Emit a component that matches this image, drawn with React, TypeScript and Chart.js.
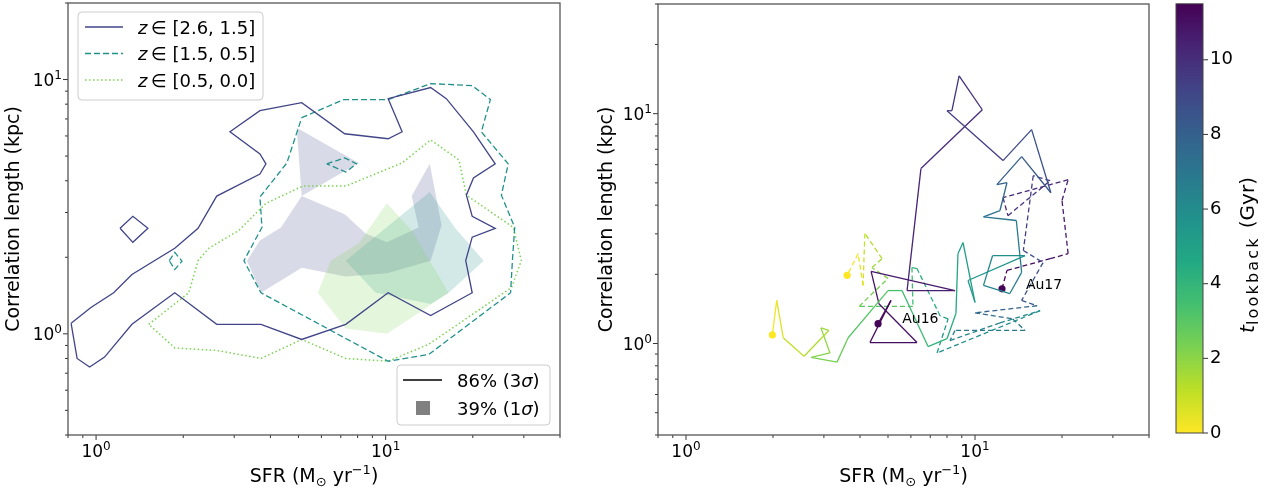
import { useEffect, useRef } from "react";
import { Chart, registerables } from "chart.js";

Chart.register(...registerables);

const FAMILY = "'DejaVu Sans', 'Liberation Sans', sans-serif";

// ---------------- axes ----------------
const sfrLimits = [0.8, 40];
const lenLimitsLeft = [0.4, 20];
const lenLimitsRight = [0.4, 30];
const sfrTickValues = [0.8, 0.9, 1, 2, 3, 4, 5, 6, 7, 8, 9, 10, 20, 30, 40];
const lenTickValuesLeft = [0.4, 0.5, 0.6, 0.7, 0.8, 0.9, 1, 2, 3, 4, 5, 6, 7, 8, 9, 10, 20];
const lenTickValuesRight = [0.4, 0.5, 0.6, 0.7, 0.8, 0.9, 1, 2, 3, 4, 5, 6, 7, 8, 9, 10, 20, 30];
const lookbackLimits = [0, 11.5];
const lookbackTickValues = [0, 2, 4, 6, 8, 10];
const yTitleText = "Correlation length (kpc)";

// ---------------- left panel: legend texts ----------------
const redshiftBins = ["[2.6, 1.5]", "[1.5, 0.5]", "[0.5, 0.0]"];
const levelPercents = ["86%", "39%"];
const levelSigmas = ["3", "1"];

// ---------------- left panel: 86% contours ----------------
// z in [2.6, 1.5]
const hiZ86SFR = [0.82, 0.86, 0.95, 1.07, 1.33, 1.87, 2.61, 3.71, 5.13, 7.28, 10.2, 14.3, 19.9, 18.9, 19.9, 23.9, 19.9, 19.0, 20.1, 23.9, 20.1, 16.2, 14.3, 10.2, 11.4, 10.2, 7.22, 5.13, 3.68, 2.90, 3.68, 3.86, 3.68, 2.61, 2.25, 1.87, 1.33, 1.15, 0.96];
const hiZ86Len = [1.10, 0.80, 0.74, 0.81, 1.09, 1.45, 1.09, 1.09, 0.95, 1.09, 1.45, 1.18, 1.45, 1.94, 2.40, 2.60, 2.90, 3.51, 4.10, 4.66, 6.23, 8.41, 9.30, 8.41, 6.23, 5.85, 6.12, 8.11, 7.54, 6.23, 5.10, 4.66, 4.25, 3.48, 2.60, 2.17, 1.71, 1.45, 1.27];
const hiZ86IslandSFR = [1.21, 1.34, 1.51, 1.34];
const hiZ86IslandLen = [2.60, 2.90, 2.60, 2.29];
// z in [1.5, 0.5]
const midZ86SFR = [5.13, 7.16, 10.2, 14.3, 19.9, 23.0, 21.4, 26.5, 25.1, 27.9, 27.4, 27.0, 14.1, 10.2, 3.71, 3.24, 3.74, 3.68, 4.56];
const midZ86Len = [7.08, 8.34, 8.34, 9.64, 9.46, 8.34, 6.23, 4.66, 3.51, 2.62, 1.94, 1.45, 0.83, 0.78, 1.45, 1.94, 2.62, 3.45, 4.70];
const midZ86IslandASFR = [6.26, 7.22, 7.94, 7.28];
const midZ86IslandALen = [4.66, 4.92, 4.66, 4.33];
const midZ86IslandBSFR = [1.79, 1.87, 1.98, 1.87];
const midZ86IslandBLen = [1.94, 2.09, 1.93, 1.79];
// z in [0.5, 0.0]
const loZ86SFR = [1.52, 2.09, 2.25, 2.45, 3.11, 3.86, 5.17, 7.28, 11.4, 14.3, 17.9, 19.0, 27.6, 29.4, 27.2, 14.1, 10.2, 7.28, 5.13, 3.71, 2.61, 1.87];
const loZ86Len = [1.09, 1.45, 1.94, 2.17, 2.55, 3.26, 3.81, 3.81, 4.70, 5.79, 4.83, 3.51, 2.62, 1.94, 1.52, 0.91, 0.78, 0.80, 0.95, 0.80, 0.86, 0.88];

// ---------------- left panel: 39% regions ----------------
const hiZ39SFR = [4.93, 8.07, 5.13, 7.22, 8.53, 10.1, 13.0, 12.3, 14.2, 15.6, 14.3, 10.1, 7.28, 5.13, 3.71, 3.32, 3.68, 4.35, 5.13];
const hiZ39Len = [6.46, 4.70, 3.48, 2.95, 2.48, 2.29, 2.62, 3.48, 4.66, 2.67, 1.94, 1.73, 1.68, 1.82, 1.45, 1.94, 2.33, 2.62, 3.48];
const midZ39SFR = [7.28, 14.2, 17.4, 21.8, 16.5, 14.3, 9.24];
const midZ39Len = [1.94, 3.61, 2.60, 1.94, 1.45, 1.31, 1.45];
const loZ39SFR = [10.1, 12.3, 16.5, 12.3, 10.1, 7.28, 5.83, 6.46, 8.07];
const loZ39Len = [3.26, 2.55, 1.45, 1.16, 1.00, 1.05, 1.45, 1.94, 2.27];

// ---------------- right panel: trajectories ----------------
const au16SFR = [4.62, 5.12, 4.33, 6.30, 4.65, 4.37, 8.53, 5.82, 6.50, 10.6, 8.81, 8.32, 8.00, 12.5, 15.7, 18.3, 14.5, 11.9, 12.9, 12.2, 10.7, 13.9, 14.5, 13.2, 10.7, 11.5, 14.9, 9.46, 10.0, 9.09, 8.73, 8.59, 8.00, 6.88, 5.59, 5.00, 3.64, 3.33, 2.71, 3.15, 2.93, 3.12, 2.56, 2.17, 2.06, 1.99];
const au16Len = [1.22, 1.54, 1.01, 1.01, 1.49, 2.06, 1.70, 1.70, 5.77, 10.4, 14.6, 10.3, 10.3, 6.25, 8.52, 4.53, 6.50, 4.91, 5.01, 3.79, 3.56, 3.43, 2.04, 1.65, 1.79, 2.41, 2.41, 1.88, 1.51, 2.75, 2.46, 1.35, 1.05, 0.97, 1.70, 1.70, 1.06, 0.83, 0.87, 0.91, 1.17, 1.14, 0.88, 1.06, 1.54, 1.09];
const au16Time = [11.4, 11.3, 11.2, 11.0, 10.9, 10.8, 10.6, 10.4, 10.2, 10.0, 9.8, 9.7, 9.6, 9.2, 8.9, 8.5, 8.2, 7.9, 7.7, 7.4, 7.1, 6.9, 6.6, 6.4, 6.2, 6.0, 5.8, 5.6, 5.4, 5.0, 4.8, 4.5, 4.2, 3.9, 3.5, 3.3, 2.8, 2.5, 2.2, 2.0, 1.8, 1.6, 1.2, 0.8, 0.4, 0.0];

const au17SFR = [12.4, 12.9, 18.2, 21.0, 20.0, 21.0, 12.5, 13.0, 18.2, 15.9, 14.7, 17.2, 14.5, 16.4, 10.0, 13.5, 14.9, 8.53, 8.19, 12.2, 16.8, 7.39, 8.07, 7.57, 6.30, 6.05, 6.10, 3.97, 5.00, 4.40, 4.77, 4.16, 4.13, 4.10, 3.94, 3.61];
const au17Len = [1.73, 2.08, 2.34, 2.46, 4.19, 5.16, 4.31, 3.60, 5.11, 5.37, 2.54, 2.25, 1.54, 1.46, 1.36, 1.28, 1.14, 1.14, 1.03, 1.23, 1.39, 0.91, 1.28, 1.32, 2.12, 2.14, 1.45, 1.45, 1.92, 2.14, 2.34, 3.01, 2.37, 1.79, 2.46, 1.98];
const au17Time = [11.4, 11.2, 11.0, 10.8, 10.6, 10.4, 10.2, 10.0, 9.8, 9.6, 9.2, 8.9, 8.5, 8.1, 7.6, 7.3, 7.0, 6.7, 6.5, 6.2, 6.0, 5.6, 5.0, 4.6, 4.0, 3.8, 3.4, 2.6, 2.2, 1.8, 1.5, 1.2, 0.9, 0.6, 0.3, 0.0];

const haloNames = ["Au16", "Au17"];
const haloLabelSFR = [5.6, 15.0];
const haloLabelLen = [1.27, 1.79];

// ---------------- styling helpers ----------------
const HI_COLOR = "#414487";
const MID_COLOR = "#21918c";
const LO_COLOR = "#7ad151";
const VIRIDIS = [
  [68, 1, 84], [72, 36, 117], [65, 68, 135], [53, 95, 141], [42, 120, 142], [33, 145, 140],
  [34, 168, 132], [68, 191, 112], [122, 209, 81], [189, 223, 38], [253, 231, 37],
];
function viridis(f: number) {
  const x = Math.min(1, Math.max(0, f)) * 10;
  const i = Math.min(9, Math.floor(x));
  const u = x - i;
  const a = VIRIDIS[i], b = VIRIDIS[i + 1];
  const c = [0, 1, 2].map((k) => Math.round(a[k] + (b[k] - a[k]) * u));
  return `rgb(${c[0]},${c[1]},${c[2]})`;
}
const lookbackColor = (t: number) => viridis(1 - t / lookbackLimits[1]);

// returns the exponent when v is a power of ten, otherwise null
function powExp(v: number): number | null {
  const e = Math.log10(v);
  const r = Math.round(e);
  return Math.abs(e - r) < 1e-6 ? r : null;
}

type Run = { t: string; size: number; italic?: boolean; dy?: number; ls?: number; gap?: number };
function runFont(r: Run) {
  return `${r.italic ? "italic " : ""}${r.size}px ${FAMILY}`;
}
function runsWidth(ctx: any, runs: Run[]) {
  let w = 0;
  for (const r of runs) {
    ctx.font = runFont(r);
    ctx.letterSpacing = `${r.ls || 0}px`;
    w += ctx.measureText(r.t).width + (r.gap || 0);
  }
  ctx.letterSpacing = "0px";
  return w;
}
function drawRuns(ctx: any, runs: Run[], x: number, y: number, align: "left" | "center" | "right") {
  const w = runsWidth(ctx, runs);
  let cx = align === "center" ? x - w / 2 : align === "right" ? x - w : x;
  ctx.textAlign = "left";
  ctx.textBaseline = "alphabetic";
  ctx.fillStyle = "#000";
  for (const r of runs) {
    ctx.font = runFont(r);
    ctx.letterSpacing = `${r.ls || 0}px`;
    ctx.fillText(r.t, cx, y + (r.dy || 0));
    cx += ctx.measureText(r.t).width + (r.gap || 0);
  }
  ctx.letterSpacing = "0px";
}
function powRuns(e: number): Run[] {
  return [
    { t: "10", size: 17 },
    { t: String(e).replace("-", "−"), size: 12, dy: -7 },
  ];
}

const sfrTitleRuns: Run[] = [
  { t: "SFR (M", size: 19 },
  { t: "⊙", size: 13, dy: 4 },
  { t: " yr", size: 19 },
  { t: "−1", size: 13, dy: -8 },
  { t: ")", size: 19 },
];

function pts(xs: number[], ys: number[], closed: boolean) {
  const out = xs.map((x, i) => ({ x, y: ys[i] }));
  if (closed) out.push({ x: xs[0], y: ys[0] });
  return out;
}

function lineDs(xs: number[], ys: number[], color: string, dash: number[], width = 1.3) {
  return {
    data: pts(xs, ys, true),
    borderColor: color,
    borderWidth: width,
    borderDash: dash,
    pointRadius: 0,
    fill: false,
    tension: 0,
  };
}
function fillDs(xs: number[], ys: number[], color: string) {
  return {
    data: pts(xs, ys, true),
    borderColor: "rgba(0,0,0,0)",
    borderWidth: 0,
    backgroundColor: color,
    fill: "shape",
    pointRadius: 0,
    tension: 0,
  };
}

// frame, tick marks and power-of-ten tick labels, all placed from the scales
const frameTicks = {
  id: "frameTicks",
  afterDraw(chart: any) {
    const { ctx, chartArea: a } = chart;
    ctx.save();
    for (const id of Object.keys(chart.scales)) {
      const s = chart.scales[id];
      if (!s.options.display) continue;
      for (const t of s.ticks) {
        const e = powExp(t.value);
        const major = e !== null;
        const len = major ? 5 : 3;
        const p = s.getPixelForValue(t.value);
        ctx.strokeStyle = "#333";
        ctx.lineWidth = 1;
        ctx.beginPath();
        if (s.isHorizontal()) {
          ctx.moveTo(p, a.bottom);
          ctx.lineTo(p, a.bottom + len);
        } else {
          ctx.moveTo(a.left, p);
          ctx.lineTo(a.left - len, p);
        }
        ctx.stroke();
        if (major) {
          if (s.isHorizontal()) drawRuns(ctx, powRuns(e as number), p, a.bottom + 22, "center");
          else drawRuns(ctx, powRuns(e as number), a.left - 6, p + 6, "right");
        }
      }
    }
    ctx.strokeStyle = "#555";
    ctx.lineWidth = 1.3;
    ctx.strokeRect(a.left, a.top, a.right - a.left, a.bottom - a.top);
    ctx.restore();
  },
};

const sfrTitle = {
  id: "sfrTitle",
  afterDraw(chart: any) {
    const { ctx, chartArea: a } = chart;
    ctx.save();
    drawRuns(ctx, sfrTitleRuns, (a.left + a.right) / 2, 482, "center");
    ctx.restore();
  },
};

function roundRect(ctx: any, x: number, y: number, w: number, h: number, r: number) {
  ctx.beginPath();
  ctx.moveTo(x + r, y);
  ctx.lineTo(x + w - r, y);
  ctx.arcTo(x + w, y, x + w, y + r, r);
  ctx.lineTo(x + w, y + h - r);
  ctx.arcTo(x + w, y + h, x + w - r, y + h, r);
  ctx.lineTo(x + r, y + h);
  ctx.arcTo(x, y + h, x, y + h - r, r);
  ctx.lineTo(x, y + r);
  ctx.arcTo(x, y, x + r, y, r);
  ctx.closePath();
}

const leftLegends = {
  id: "leftLegends",
  afterDraw(chart: any) {
    const { ctx, chartArea: a } = chart;
    ctx.save();
    // redshift legend (upper left)
    const bx = a.left + 10, by = a.top + 9, bw = 185, bh = 88;
    roundRect(ctx, bx, by, bw, bh, 4);
    ctx.fillStyle = "rgba(255,255,255,0.8)";
    ctx.fill();
    ctx.strokeStyle = "#cccccc";
    ctx.lineWidth = 1;
    ctx.stroke();
    const colors = [HI_COLOR, MID_COLOR, LO_COLOR];
    const dashes = [[], [6, 3], [1.5, 2.5]];
    redshiftBins.forEach((bin, i) => {
      const y = by + 15 + i * 26.5;
      ctx.strokeStyle = colors[i];
      ctx.lineWidth = i === 2 ? 1.5 : 1.3;
      ctx.setLineDash(dashes[i]);
      ctx.beginPath();
      ctx.moveTo(bx + 7, y);
      ctx.lineTo(bx + 45, y);
      ctx.stroke();
      ctx.setLineDash([]);
      drawRuns(ctx, [{ t: "z", size: 18, italic: true }, { t: "\u2009\u2208 " + bin, size: 18 }], bx + 60, y + 6.5, "left");
    });
    // level legend (lower right)
    const w2 = 153, h2 = 60;
    const x2 = a.right - 10 - w2, y2 = a.bottom - 10 - h2;
    roundRect(ctx, x2, y2, w2, h2, 4);
    ctx.fillStyle = "rgba(255,255,255,0.8)";
    ctx.fill();
    ctx.strokeStyle = "#cccccc";
    ctx.lineWidth = 1;
    ctx.stroke();
    ctx.strokeStyle = "#000";
    ctx.lineWidth = 1.3;
    ctx.beginPath();
    ctx.moveTo(x2 + 6, y2 + 15);
    ctx.lineTo(x2 + 45, y2 + 15);
    ctx.stroke();
    ctx.fillStyle = "#808080";
    ctx.fillRect(x2 + 19, y2 + 36, 14, 14);
    levelPercents.forEach((p, i) => {
      const y = y2 + 15 + i * 28;
      drawRuns(ctx, [{ t: `${p} (${levelSigmas[i]}`, size: 18 }, { t: "σ", size: 18, italic: true }, { t: ")", size: 18 }], x2 + 60, y + 6.5, "left");
    });
    ctx.restore();
  },
};

const haloLabels = {
  id: "haloLabels",
  afterDatasetsDraw(chart: any) {
    const { ctx } = chart;
    const xs = chart.scales.x, ys = chart.scales.y;
    ctx.save();
    ctx.font = `14px ${FAMILY}`;
    ctx.fillStyle = "#000";
    ctx.textAlign = "left";
    ctx.textBaseline = "middle";
    haloNames.forEach((n, i) => {
      ctx.fillText(n, xs.getPixelForValue(haloLabelSFR[i]), ys.getPixelForValue(haloLabelLen[i]));
    });
    ctx.restore();
  },
};

const cbarDecor = {
  id: "cbarDecor",
  afterDraw(chart: any) {
    const { ctx, chartArea: a } = chart;
    ctx.save();
    const s = chart.scales.y;
    ctx.strokeStyle = "#333";
    ctx.lineWidth = 1;
    for (const t of s.ticks) {
      const p = s.getPixelForValue(t.value);
      ctx.beginPath();
      ctx.moveTo(a.right, p);
      ctx.lineTo(a.right + 5, p);
      ctx.stroke();
    }
    ctx.strokeStyle = "#444";
    ctx.lineWidth = 1;
    ctx.strokeRect(a.left, a.top, a.right - a.left, a.bottom - a.top);
    // rotated title
    ctx.translate(87, 255);
    ctx.rotate(-Math.PI / 2);
    drawRuns(
      ctx,
      [
        { t: "t", size: 20, italic: true },
        { t: "lookback", size: 16, dy: 4, ls: 2.2, gap: 8 },
        { t: "(Gyr)", size: 20 },
      ],
      0,
      7,
      "center"
    );
    ctx.restore();
  },
};

function logX() {
  return {
    type: "logarithmic",
    position: "bottom",
    min: sfrLimits[0],
    max: sfrLimits[1],
    afterBuildTicks: (s: any) => {
      s.ticks = sfrTickValues.map((v) => ({ value: v }));
    },
    afterFit: (s: any) => {
      s.height = 54;
    },
    ticks: { display: false },
    grid: { display: false, drawTicks: false },
    border: { display: false },
  };
}
function logY(limits: number[], tickVals: number[], width: number) {
  return {
    type: "logarithmic",
    position: "left",
    min: limits[0],
    max: limits[1],
    afterBuildTicks: (s: any) => {
      s.ticks = tickVals.map((v) => ({ value: v }));
    },
    afterFit: (s: any) => {
      s.width = width;
    },
    ticks: { display: false },
    grid: { display: false, drawTicks: false },
    border: { display: false },
    title: {
      display: true,
      text: yTitleText,
      color: "#000",
      font: { family: FAMILY, size: 19 },
      padding: { top: 3, bottom: 0 },
    },
  };
}

const baseOptions = {
  animation: false,
  responsive: false,
  devicePixelRatio: 1,
  events: [],
};

function trajectoryDs(xs: number[], ys: number[], times: number[], dash: number[]) {
  const n = xs.length;
  return {
    data: pts(xs, ys, false),
    borderWidth: 1.3,
    borderDash: dash,
    borderColor: lookbackColor(times[0]),
    segment: {
      borderColor: (c: any) => lookbackColor((times[c.p0DataIndex] + times[c.p1DataIndex]) / 2),
    },
    pointRadius: (c: any) => (c.dataIndex === 0 || c.dataIndex === n - 1 ? 3.6 : 0),
    pointBackgroundColor: (c: any) => lookbackColor(times[c.dataIndex]),
    pointBorderColor: (c: any) => lookbackColor(times[c.dataIndex]),
    pointBorderWidth: 0,
    fill: false,
    tension: 0,
  };
}

export default function App() {
  const leftRef = useRef<HTMLCanvasElement>(null);
  const rightRef = useRef<HTMLCanvasElement>(null);
  const cbRef = useRef<HTMLCanvasElement>(null);

  useEffect(() => {
    const charts: Chart[] = [];

    charts.push(
      new Chart(leftRef.current as HTMLCanvasElement, {
        type: "line",
        data: {
          datasets: [
            lineDs(hiZ86SFR, hiZ86Len, HI_COLOR, []),
            lineDs(hiZ86IslandSFR, hiZ86IslandLen, HI_COLOR, []),
            lineDs(midZ86SFR, midZ86Len, MID_COLOR, [6, 3]),
            lineDs(midZ86IslandASFR, midZ86IslandALen, MID_COLOR, [6, 3]),
            lineDs(midZ86IslandBSFR, midZ86IslandBLen, MID_COLOR, [6, 3]),
            lineDs(loZ86SFR, loZ86Len, LO_COLOR, [1.5, 2.5], 1.5),
            fillDs(loZ39SFR, loZ39Len, "rgba(122,209,81,0.2)"),
            fillDs(midZ39SFR, midZ39Len, "rgba(33,145,140,0.2)"),
            fillDs(hiZ39SFR, hiZ39Len, "rgba(65,68,135,0.2)"),
          ] as any,
        },
        options: {
          ...baseOptions,
          layout: { padding: { left: 0, right: 32, top: 3, bottom: 0 } },
          plugins: { legend: { display: false }, tooltip: { enabled: false } },
          scales: { x: logX(), y: logY(lenLimitsLeft, lenTickValuesLeft, 68) } as any,
        } as any,
        plugins: [frameTicks, sfrTitle, leftLegends],
      })
    );

    charts.push(
      new Chart(rightRef.current as HTMLCanvasElement, {
        type: "line",
        data: {
          datasets: [
            trajectoryDs(au16SFR, au16Len, au16Time, []),
            trajectoryDs(au17SFR, au17Len, au17Time, [5, 3]),
          ] as any,
        },
        options: {
          ...baseOptions,
          layout: { padding: { left: 0, right: 11, top: 3, bottom: 0 } },
          plugins: { legend: { display: false }, tooltip: { enabled: false } },
          scales: { x: logX(), y: logY(lenLimitsRight, lenTickValuesRight, 65) } as any,
        } as any,
        plugins: [frameTicks, sfrTitle, haloLabels],
      })
    );

    charts.push(
      new Chart(cbRef.current as HTMLCanvasElement, {
        type: "bar",
        data: {
          labels: [""],
          datasets: [
            {
              data: [[lookbackLimits[0], lookbackLimits[1]]],
              barPercentage: 1,
              categoryPercentage: 1,
              borderWidth: 0,
              backgroundColor: (c: any) => {
                const chart = c.chart;
                if (!chart.chartArea) return "rgba(0,0,0,0)";
                const s = chart.scales.y;
                const g = chart.ctx.createLinearGradient(0, s.getPixelForValue(lookbackLimits[0]), 0, s.getPixelForValue(lookbackLimits[1]));
                for (let i = 0; i <= 20; i++) g.addColorStop(i / 20, viridis(1 - i / 20));
                return g;
              },
            },
          ] as any,
        },
        options: {
          ...baseOptions,
          layout: { padding: { left: 16, right: 0, top: 3, bottom: 56 } },
          plugins: { legend: { display: false }, tooltip: { enabled: false } },
          scales: {
            x: { display: false },
            y: {
              position: "right",
              min: lookbackLimits[0],
              max: lookbackLimits[1],
              afterBuildTicks: (s: any) => {
                s.ticks = lookbackTickValues.map((v) => ({ value: v }));
              },
              afterFit: (s: any) => {
                s.width = 64;
              },
              ticks: {
                padding: 2,
                color: "#000",
                font: { family: FAMILY, size: 18, lineHeight: 0.2 },
                callback: (v: any) => String(v),
              },
              grid: { display: false, drawTicks: true, tickLength: 5 },
              border: { display: false },
            },
          } as any,
        } as any,
        plugins: [cbarDecor],
      })
    );

    return () => charts.forEach((c) => c.destroy());
  }, []);

  return (
    <div style={{ position: "absolute", left: 0, top: 0, width: 1267, height: 489, background: "#fff", overflow: "hidden" }}>
      <canvas ref={leftRef} width={592} height={489} style={{ position: "absolute", left: 0, top: 0, width: 592, height: 489 }} />
      <canvas ref={rightRef} width={567} height={489} style={{ position: "absolute", left: 593, top: 0, width: 567, height: 489 }} />
      <canvas ref={cbRef} width={107} height={489} style={{ position: "absolute", left: 1160, top: 0, width: 107, height: 489 }} />
    </div>
  );
}
